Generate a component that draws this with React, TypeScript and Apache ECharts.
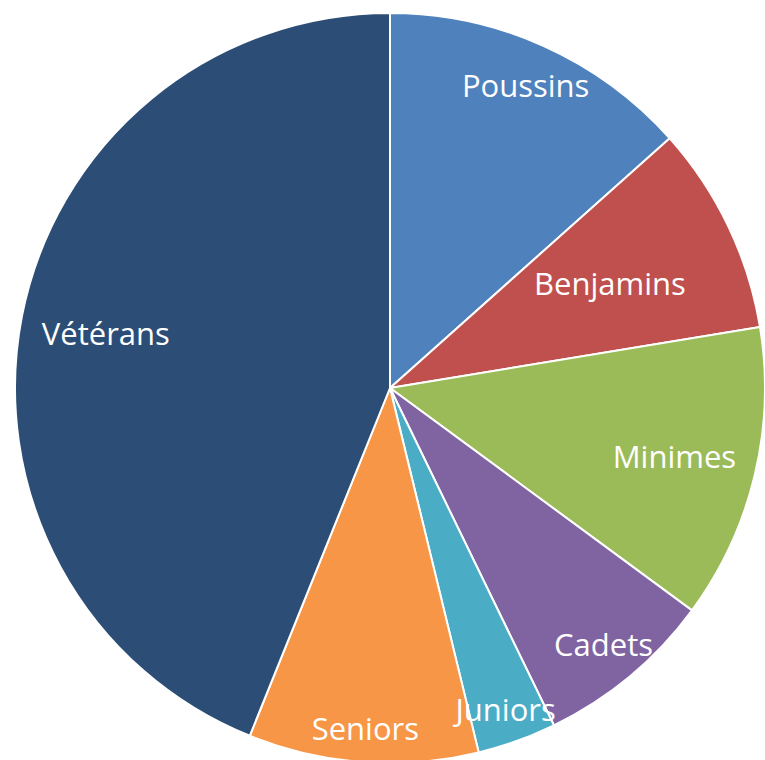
import React, { useEffect, useRef } from "react";
import * as echarts from "echarts";

const categories = ["Poussins", "Benjamins", "Minimes", "Cadets", "Juniors", "Seniors", "Vétérans"];
const values = [13.4, 9.0, 12.7, 7.7, 3.4, 9.9, 43.9];
const colors = ["#4F81BD", "#C0504D", "#9BBB59", "#8064A2", "#4BACC6", "#F79646", "#2C4D75"];
// label distance from centre, as a fraction of the radius (layout only)
const labelRadiusFraction = [0.885, 0.65, 0.78, 0.89, 0.91, 0.91, 0.772];

const CX = 390;
const CY = 388;
const R = 375;

export default function App() {
  const ref = useRef<HTMLDivElement>(null);
  useEffect(() => {
    if (!ref.current) return;
    const chart = echarts.init(ref.current, undefined, { renderer: "svg" });
    const total = values.reduce((a, b) => a + b, 0);
    const mids: number[] = [];
    let acc = 0;
    values.forEach((v) => {
      mids.push(((acc + v / 2) / total) * Math.PI * 2);
      acc += v;
    });
    chart.setOption({
      animation: false,
      backgroundColor: "#ffffff",
      series: [
        {
          type: "pie",
          center: [CX, CY],
          radius: [0, R],
          startAngle: 90,
          clockwise: true,
          avoidLabelOverlap: false,
          itemStyle: { borderColor: "#ffffff", borderWidth: 2 },
          emphasis: { disabled: true },
          label: {
            show: true,
            position: "inside",
            color: "#ffffff",
            fontFamily: "Open Sans",
            fontSize: 31,
            formatter: "{b}",
          },
          labelLine: { show: false },
          labelLayout: (params: any) => {
            const i = params.dataIndex;
            const a = mids[i];
            const r = labelRadiusFraction[i] * R;
            return {
              x: CX + r * Math.sin(a),
              y: CY - r * Math.cos(a),
              align: "center",
              verticalAlign: "middle",
            };
          },
          data: categories.map((name, i) => ({
            name,
            value: values[i],
            itemStyle: { color: colors[i] },
          })),
        },
      ],
    });
    return () => chart.dispose();
  }, []);
  return (
    <div
      ref={ref}
      style={{ position: "fixed", left: 0, top: 0, width: 765, height: 760 }}
    />
  );
}
